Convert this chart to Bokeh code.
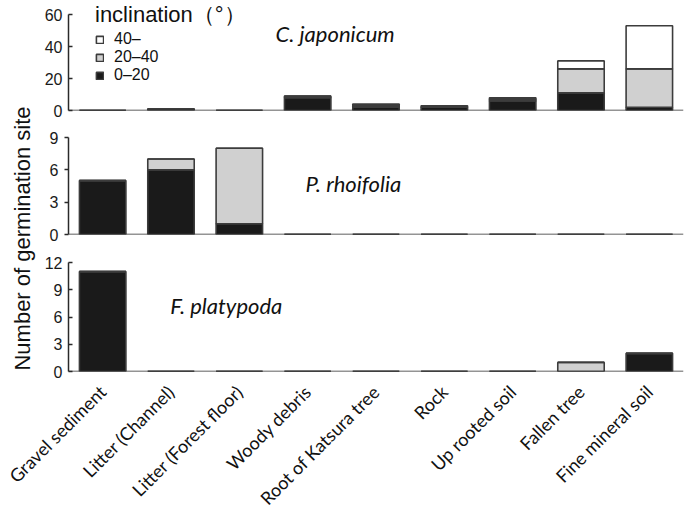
import math
from bokeh.plotting import figure
from bokeh.models import (FactorRange, Range1d, FixedTicker, Label, Legend,
                          LegendItem, ColumnDataSource, Span)
from bokeh.layouts import row, column
from bokeh.embed import file_html
from bokeh.resources import INLINE

# ---------------- data ----------------
categories = ["Gravel sediment", "Litter (Channel)", "Litter (Forest floor)",
              "Woody debris", "Root of Katsura tree", "Rock", "Up rooted soil",
              "Fallen tree", "Fine mineral soil"]
incl_labels = ["0–20", "20–40", "40–"]

# C. japonicum
cj_0_20 = [0, 1, 0, 8, 2, 2, 6, 11, 2]
cj_20_40 = [0, 0, 0, 1, 1, 0, 1, 15, 24]
cj_40 = [0, 0, 0, 0, 1, 1, 1, 5, 27]

# P. rhoifolia
pr_0_20 = [5, 6, 1, 0, 0, 0, 0, 0, 0]
pr_20_40 = [0, 1, 7, 0, 0, 0, 0, 0, 0]
pr_40 = [0, 0, 0, 0, 0, 0, 0, 0, 0]

# F. platypoda
fp_0_20 = [11, 0, 0, 0, 0, 0, 0, 0, 2]
fp_20_40 = [0, 0, 0, 0, 0, 0, 0, 1, 0]
fp_40 = [0, 0, 0, 0, 0, 0, 0, 0, 0]

ticks_cj = [0, 20, 40, 60]
ticks_pr = [0, 3, 6, 9]
ticks_fp = [0, 3, 6, 9, 12]

# ---------------- style ----------------
BLACK = "#1a1a1a"
GRAY = "#d0d0d0"
WHITE = "#ffffff"
EDGE = "#3c3c3c"
AXIS = "#2a2a2a"
FONT = "Liberation Sans"
CAT_FONT = "Lato"


def panel(height, ymax, ticks, d0, d1, d2, btop, bbottom, tick_in, yend=None):
    src = ColumnDataSource(dict(cat=categories, a=d0, b=d1, c=d2))
    p = figure(width=647, height=height,
               x_range=FactorRange(factors=categories, range_padding=0),
               y_range=Range1d(0, yend if yend else ymax),
               output_backend="svg", toolbar_location=None,
               x_axis_location=None,
               min_border_left=30, min_border_right=2,
               min_border_top=btop, min_border_bottom=bbottom)
    rs = p.vbar_stack(["a", "b", "c"], x="cat", width=0.68, source=src,
                      fill_color=[BLACK, GRAY, WHITE], line_color=EDGE,
                      line_width=1.6)
    p.add_layout(Span(location=0, dimension="width", line_color=AXIS,
                      line_width=1.5))
    p.xgrid.visible = False
    p.ygrid.visible = False
    p.outline_line_color = None

    ya = p.yaxis[0]
    ya.ticker = FixedTicker(ticks=ticks)
    ya.bounds = (0, ymax)
    ya.minor_tick_line_color = None
    ya.major_tick_in = 4 if tick_in else 0
    ya.major_tick_out = 0 if tick_in else 4
    ya.axis_line_color = AXIS
    ya.axis_line_width = 1.5
    ya.major_tick_line_color = AXIS
    ya.major_tick_line_width = 1.5
    ya.major_label_text_font = FONT
    ya.major_label_text_font_size = "16px"
    ya.major_label_text_color = "#1a1a1a"
    ya.major_label_standoff = 6
    return p, rs


# top panel: frame extends a little above 60 so that the legend title fits
p1, rs1 = panel(120, 60, ticks_cj, cj_0_20, cj_20_40, cj_40, 2, 10, True,
                yend=67.5)
p2, rs2 = panel(133, 9, ticks_pr, pr_0_20, pr_20_40, pr_40, 17, 19, False)
p3, rs3 = panel(127, 12, ticks_fp, fp_0_20, fp_20_40, fp_40, 9, 9, True)

# legend (with its title)
legend = Legend(items=[LegendItem(label=incl_labels[2], renderers=[rs1[2]]),
                       LegendItem(label=incl_labels[1], renderers=[rs1[1]]),
                       LegendItem(label=incl_labels[0], renderers=[rs1[0]])],
                location=(27, 26), title="inclination（°）",
                background_fill_alpha=0, border_line_color=None,
                padding=0, margin=0, spacing=0,
                label_height=17, glyph_height=9, glyph_width=9,
                label_standoff=10, title_standoff=0,
                title_text_font=FONT, title_text_font_size="22px",
                title_text_font_style="normal", title_text_color="#111111",
                label_text_font=FONT, label_text_font_size="16px",
                label_text_color="#111111")
p1.add_layout(legend)

# species names
p1.add_layout(Label(x=3.03, y=48, text="C. japonicum", text_font=CAT_FONT,
                    text_font_style="italic", text_font_size="22px",
                    text_baseline="middle", text_color="#111111"))
p2.add_layout(Label(x=3.47, y=4.7, text="P. rhoifolia", text_font=CAT_FONT,
                    text_font_style="italic", text_font_size="22px",
                    text_baseline="middle", text_color="#111111"))
p3.add_layout(Label(x=1.49, y=7.3, text="F. platypoda", text_font=CAT_FONT,
                    text_font_style="italic", text_font_size="22px",
                    text_baseline="middle", text_color="#111111"))

# category labels (shared x axis under the bottom panel)
p4 = figure(width=685, height=133,
            x_range=p3.x_range, y_range=Range1d(0, 1),
            output_backend="svg", toolbar_location=None,
            y_axis_location=None,
            min_border_left=68, min_border_right=2,
            min_border_top=0, min_border_bottom=131)
p4.xgrid.visible = False
p4.ygrid.visible = False
p4.outline_line_color = None
xa = p4.xaxis[0]
xa.axis_line_color = None
xa.major_tick_line_color = None
xa.minor_tick_line_color = None
xa.major_label_orientation = math.pi / 4
xa.major_label_text_font = CAT_FONT
xa.major_label_text_font_size = "18px"
xa.major_label_text_color = "#111111"
xa.major_label_standoff = 2

# shared y-axis title
lab = figure(width=38, height=380, x_range=Range1d(0, 38), y_range=Range1d(0, 380),
             x_axis_location=None, y_axis_location=None, min_border=0,
             output_backend="svg", toolbar_location=None)
lab.xgrid.visible = False
lab.ygrid.visible = False
lab.outline_line_color = None
lab.add_layout(Label(x=22, y=142, text="Number of germination site",
                     angle=math.pi / 2, text_align="center",
                     text_baseline="middle", text_font=FONT,
                     text_font_size="22px", text_color="#111111"))

layout = column(row(lab, column(p1, p2, p3, spacing=0), spacing=0), p4,
                spacing=0)

open("out.html", "w").write(file_html(layout, INLINE))
